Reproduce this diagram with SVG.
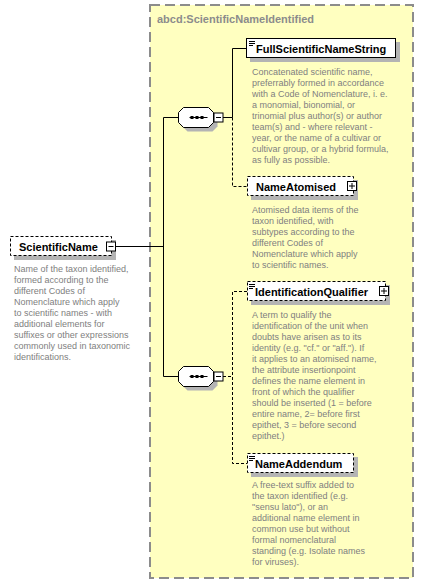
<svg xmlns="http://www.w3.org/2000/svg" width="424" height="584" viewBox="0 0 424 584">
  <style>
    .frame { fill: #ffffc0; stroke: #8c8c8c; stroke-width: 2; stroke-dasharray: 10,5; }
    .title { font-family: "Liberation Sans", Arial, sans-serif; font-size: 11px; font-weight: bold; fill: #8c8c8c; }
    .box { fill: #ffffff; stroke: #000000; stroke-width: 1; }
    .opt { stroke-dasharray: 3,2; }
    .shadow { fill: #b4b4b4; stroke: none; }
    .label { font-family: "Liberation Sans", Arial, sans-serif; font-size: 11px; font-weight: bold; fill: #000000; }
    .desc { font-family: "Liberation Sans", Arial, sans-serif; font-size: 9px; fill: #808080; }
    .wire { fill: none; stroke: #000000; stroke-width: 1; }
    .dash { stroke-dasharray: 3,2; }
    .btn { fill: #ffffff; stroke: #000000; stroke-width: 1; }
    .glyph { fill: none; stroke: #000000; stroke-width: 1; }
  </style>
  <defs>
    <!-- sequence compositor: octagon with three dots -->
    <g id="seq">
      <polygon class="shadow" points="9,4 34,4 39,9 39,19 34,24 9,24 4,19 4,9"/>
      <polygon class="box" points="5,0 30,0 35,5 35,15 30,20 5,20 0,15 0,5"/>
      <line class="glyph" x1="11" y1="10" x2="29" y2="10"/>
      <rect x="12" y="8.5" width="3" height="3" fill="#000"/>
      <rect x="17" y="8.5" width="3" height="3" fill="#000"/>
      <rect x="22" y="8.5" width="3" height="3" fill="#000"/>
      <rect class="btn" x="35.5" y="5.5" width="9" height="9"/>
      <line class="glyph" x1="37.5" y1="10" x2="42.5" y2="10"/>
    </g>
    <!-- simple-content marker -->
    <g id="simple">
      <line class="glyph" x1="0" y1="0.5" x2="6" y2="0.5"/>
      <line class="glyph" x1="0" y1="2.5" x2="6" y2="2.5"/>
      <line class="glyph" x1="0" y1="4.5" x2="4" y2="4.5"/>
    </g>
    <g id="plus">
      <rect class="btn" x="0.5" y="0.5" width="9" height="9"/>
      <line class="glyph" x1="2" y1="5" x2="8" y2="5"/>
      <line class="glyph" x1="5" y1="2" x2="5" y2="8"/>
    </g>
  </defs>

  <!-- complex type frame -->
  <g id="type-frame">
    <rect class="frame" x="150" y="5" width="263" height="573"/>
    <text class="title" x="157" y="23">abcd:ScientificNameIdentified</text>
  </g>

  <!-- connectors -->
  <g id="connectors">
    <line class="wire" x1="115" y1="246.5" x2="163.5" y2="246.5"/>
    <line class="wire" x1="163.5" y1="117.5" x2="163.5" y2="376.5"/>
    <line class="wire" x1="163.5" y1="117.5" x2="178" y2="117.5"/>
    <line class="wire" x1="163.5" y1="376.5" x2="178" y2="376.5"/>
    <polyline class="wire" points="223,117.5 232.5,117.5 232.5,48.5 247,48.5"/>
    <polyline class="wire dash" points="232.5,117.5 232.5,186.5 247,186.5"/>
    <line class="wire dash" x1="223" y1="376.5" x2="232.5" y2="376.5"/>
    <polyline class="wire dash" points="247,291.5 232.5,291.5 232.5,463.5 247,463.5"/>
  </g>

  <!-- root element -->
  <g id="ScientificName">
    <rect class="shadow" x="14" y="240" width="102" height="20"/>
    <rect class="box opt" x="10.5" y="236.5" width="101" height="19"/>
    <text class="label" x="19" y="250.5">ScientificName</text>
    <rect class="btn" x="106.5" y="242" width="9" height="9"/>
    <line class="glyph" x1="108.5" y1="246.5" x2="113.5" y2="246.5"/>
    <text class="desc">
      <tspan x="14" y="272">Name of the taxon identified,</tspan>
      <tspan x="14" y="283">formed according to the</tspan>
      <tspan x="14" y="294">different Codes of</tspan>
      <tspan x="14" y="305">Nomenclature which apply</tspan>
      <tspan x="14" y="316">to scientific names - with</tspan>
      <tspan x="14" y="327">additional elements for</tspan>
      <tspan x="14" y="338">suffixes or other expressions</tspan>
      <tspan x="14" y="349">commonly used in taxonomic</tspan>
      <tspan x="14" y="360">identifications.</tspan>
    </text>
  </g>

  <g id="sequence-1">
    <use href="#seq" x="178.5" y="107.5"/>
  </g>
  <g id="sequence-2">
    <use href="#seq" x="178.5" y="366.5"/>
  </g>

  <g id="FullScientificNameString">
    <rect class="shadow" x="250" y="42" width="150" height="20"/>
    <rect class="box" x="246.5" y="38.5" width="149" height="19"/>
    <use href="#simple" x="249" y="41"/>
    <text class="label" x="256" y="52.5">FullScientificNameString</text>
    <text class="desc">
      <tspan x="252" y="74.5">Concatenated scientific name,</tspan>
      <tspan x="252" y="85.5">preferrably formed in accordance</tspan>
      <tspan x="252" y="96.5">with a Code of Nomenclature, i. e.</tspan>
      <tspan x="252" y="107.5">a monomial, bionomial, or</tspan>
      <tspan x="252" y="118.5">trinomial plus author(s) or author</tspan>
      <tspan x="252" y="129.5">team(s) and - where relevant -</tspan>
      <tspan x="252" y="140.5">year, or the name of a cultivar or</tspan>
      <tspan x="252" y="151.5">cultivar group, or a hybrid formula,</tspan>
      <tspan x="252" y="162.5">as fully as possible.</tspan>
    </text>
  </g>

  <g id="NameAtomised">
    <rect class="shadow" x="251" y="180" width="107" height="20"/>
    <rect class="box opt" x="247.5" y="176.5" width="106" height="19"/>
    <text class="label" x="256" y="190.5">NameAtomised</text>
    <use href="#plus" x="347" y="181"/>
    <text class="desc">
      <tspan x="252" y="212.5">Atomised data items of the</tspan>
      <tspan x="252" y="223.5">taxon identified, with</tspan>
      <tspan x="252" y="234.5">subtypes according to the</tspan>
      <tspan x="252" y="245.5">different Codes of</tspan>
      <tspan x="252" y="256.5">Nomenclature which apply</tspan>
      <tspan x="252" y="267.5">to scientific names.</tspan>
    </text>
  </g>

  <g id="IdentificationQualifier">
    <rect class="shadow" x="251" y="285" width="139" height="20"/>
    <rect class="box opt" x="247.5" y="281.5" width="138" height="19"/>
    <use href="#simple" x="249" y="284"/>
    <text class="label" x="255" y="295.5">IdentificationQualifier</text>
    <use href="#plus" x="379" y="286"/>
    <text class="desc">
      <tspan x="252" y="317.5">A term to qualify the</tspan>
      <tspan x="252" y="328.5">identification of the unit when</tspan>
      <tspan x="252" y="339.5">doubts have arisen as to its</tspan>
      <tspan x="252" y="350.5">identity (e.g. "cf." or "aff."). If</tspan>
      <tspan x="252" y="361.5">it applies to an atomised name,</tspan>
      <tspan x="252" y="372.5">the attribute insertionpoint</tspan>
      <tspan x="252" y="383.5">defines the name element in</tspan>
      <tspan x="252" y="394.5">front of which the qualifier</tspan>
      <tspan x="252" y="405.5">should be inserted (1 = before</tspan>
      <tspan x="252" y="416.5">entire name, 2= before first</tspan>
      <tspan x="252" y="427.5">epithet, 3 = before second</tspan>
      <tspan x="252" y="438.5">epithet.)</tspan>
    </text>
  </g>

  <g id="NameAddendum">
    <rect class="shadow" x="251" y="457" width="107" height="20"/>
    <rect class="box opt" x="247.5" y="453.5" width="106" height="19"/>
    <use href="#simple" x="249" y="456"/>
    <text class="label" x="255" y="467.5">NameAddendum</text>
    <text class="desc">
      <tspan x="252" y="488">A free-text suffix added to</tspan>
      <tspan x="252" y="499">the taxon identified (e.g.</tspan>
      <tspan x="252" y="510">"sensu lato"), or an</tspan>
      <tspan x="252" y="521">additional name element in</tspan>
      <tspan x="252" y="532">common use but without</tspan>
      <tspan x="252" y="543">formal nomenclatural</tspan>
      <tspan x="252" y="554">standing (e.g. Isolate names</tspan>
      <tspan x="252" y="565">for viruses).</tspan>
    </text>
  </g>
</svg>
